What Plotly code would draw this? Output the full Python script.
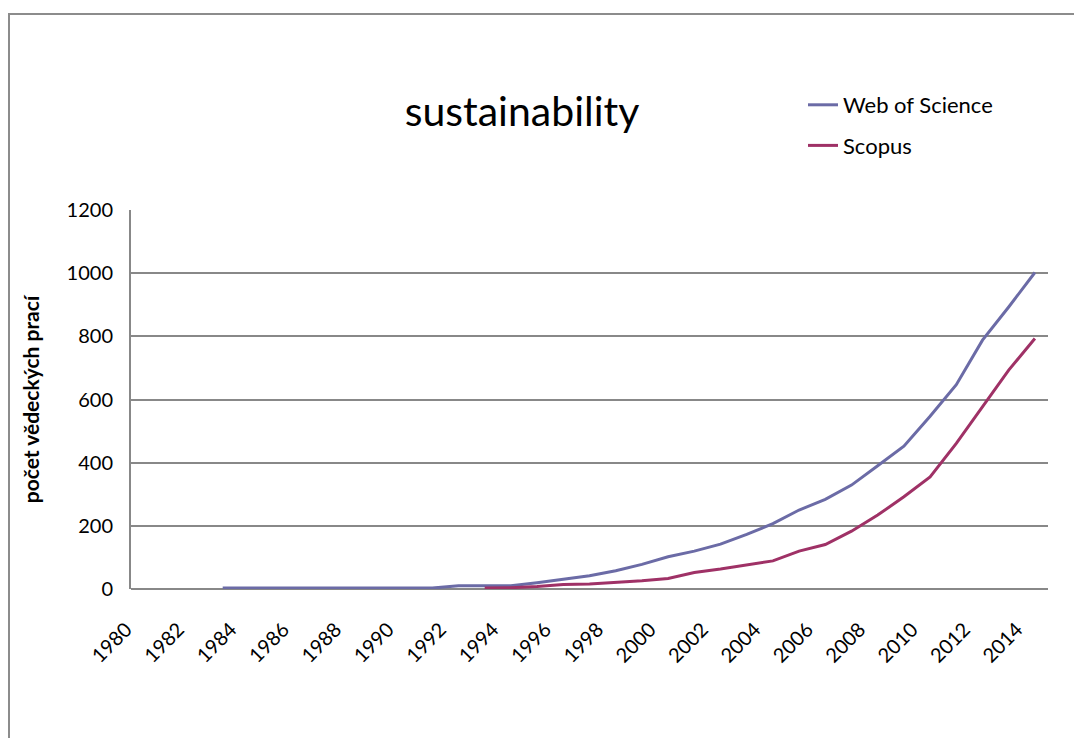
import plotly.graph_objects as go

years = list(range(1980, 2015))
wos = [None, None, None, 3, 3, 3, 3, 3, 3, 3, 3, 3,
       10, 10, 10, 20, 30, 42, 58, 78, 102, 120, 142, 173, 207, 250, 284, 329,
       390, 452, 547, 647, 788, 893, 1002]
scopus = [None] * 13 + [3, 4, 8, 14, 16, 20, 26, 33, 52, 63, 76, 89, 120, 141,
                        183, 234, 292, 355, 461, 577, 693, 793]
tick_years = list(range(1980, 2015, 2))

FONT = "Lato"
fig = go.Figure()
fig.add_trace(go.Scatter(x=years, y=wos, mode="lines", name="Web of Science",
                         line=dict(color="#6B6BA6", width=3), legendgroup="a"))
fig.add_trace(go.Scatter(x=years, y=scopus, mode="lines", name="Scopus",
                         line=dict(color="#9F3166", width=3), legendgroup="b"))

fig.update_layout(
    width=1074, height=738,
    margin=dict(l=131, r=26, t=210, b=149),
    paper_bgcolor="white", plot_bgcolor="white",
    font=dict(family=FONT, color="black", size=20),
    title=dict(text="sustainability", x=522/1074, xanchor="center",
               y=1 - 112/738, yanchor="middle", yref="container",
               font=dict(family=FONT, size=41, color="black")),
    legend=dict(x=(803-131)/917, xanchor="left", y=(589-84)/379, yanchor="top",
                font=dict(family=FONT, size=22, color="black"),
                traceorder="grouped", tracegroupgap=9, bgcolor="rgba(0,0,0,0)"),
    showlegend=True,
    shapes=[dict(type="rect", xref="paper", yref="paper",
                 x0=(9-131)/917, x1=1.2, y0=-0.6, y1=(589-14)/379,
                 line=dict(color="#8C8C8C", width=2), fillcolor="rgba(0,0,0,0)",
                 layer="below")],
)
fig.update_xaxes(range=[1979.5, 2014.5], tickmode="array", tickvals=tick_years,
                 ticktext=[str(y) for y in tick_years], tickangle=-45,
                 showgrid=False, zeroline=False, showline=False, ticks="",
                 ticklabelstandoff=24, ticklabelshift=-18,
                 tickfont=dict(family=FONT, size=20))
fig.update_yaxes(range=[0, 1200], dtick=200, showgrid=True, gridcolor="#888888",
                 gridwidth=2, zeroline=True, zerolinecolor="#888888", zerolinewidth=2,
                 showline=True, linecolor="#888888", linewidth=2, ticks="",
                 ticklabelstandoff=12,
                 tickfont=dict(family=FONT, size=20),
                 title=dict(text="<b>počet vědeckých prací</b>", standoff=21,
                            font=dict(family=FONT, size=21, color="black")))
fig.write_html("out.html")
